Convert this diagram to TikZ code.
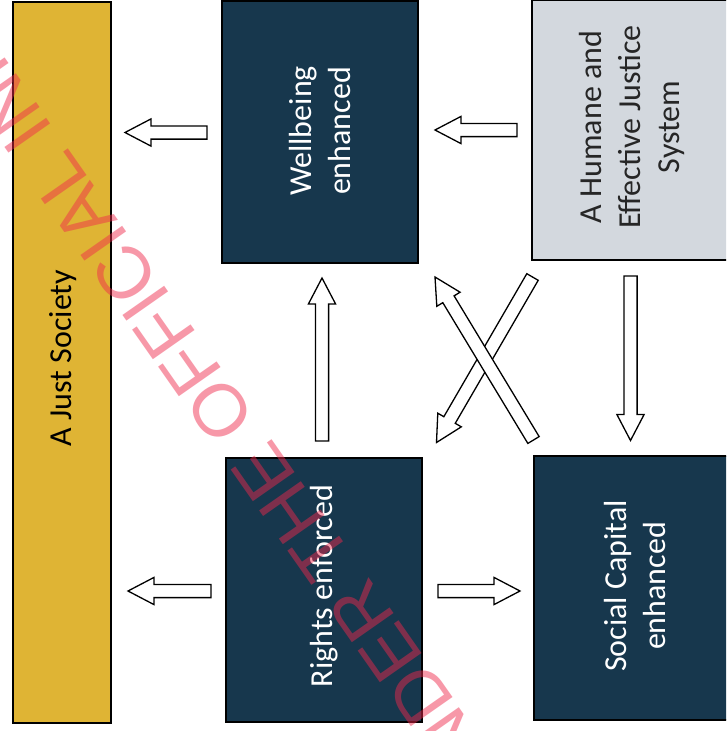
\documentclass[tikz,border=0pt]{standalone}
\usepackage{fontspec}
\setmainfont{Carlito}
\newfontfamily\wmfont{Liberation Sans}
\usetikzlibrary{calc}
\definecolor{navy}{HTML}{17374D}
\definecolor{gold}{HTML}{DFB434}
\definecolor{lgray}{HTML}{D3D8DE}
\definecolor{wmred}{RGB}{240,40,75}
\definecolor{darktext}{HTML}{262626}
\tikzset{
  box/.style={draw=black, line width=1.2pt, rectangle, inner sep=0pt},
  darkbox/.style={box, fill=navy},
  lbl/.style={rotate=90, align=center, font=\fontsize{32}{39}\selectfont, inner sep=0pt},
  barrow/.style={draw=black, fill=white, line width=1.3pt, line join=miter},
  wm/.style={font=\wmfont\fontsize{74}{74}\selectfont, text=wmred, text opacity=0.48, rotate=125, inner sep=0pt}
}
\def\sw{6.6pt}
\def\hw{13.6pt}
\newcommand\blockarrow[3]{%
  \coordinate (#3h) at ($(#2)!26pt!(#1)$);
  \draw[barrow] ($(#1)!\sw!-90:(#2)$) -- ($(#3h)!\sw!-90:(#2)$) -- ($(#3h)!\hw!-90:(#2)$) -- (#2)
    -- ($(#3h)!\hw!90:(#2)$) -- ($(#3h)!\sw!90:(#2)$) -- ($(#1)!\sw!90:(#2)$) -- cycle;
}
\begin{document}
\begin{tikzpicture}[x=1pt,y=-1pt]
\useasboundingbox (0,0) rectangle (726,731);
\clip (0,0) rectangle (726,731);
\fill[white] (0,0) rectangle (726,731);

% boxes
\node[box, fill=gold, minimum width=98pt, minimum height=721pt] (just) at (62,362.5) {};
\node[lbl, text=black] (justt) at (63,358) {A Just Society};

\node[darkbox, minimum width=196pt, minimum height=262pt] (wb) at (320,132) {};
\node[lbl, text=white] (wbt) at (320,131) {Wellbeing\\enhanced};

\node[box, fill=lgray, minimum width=202pt, minimum height=260pt] (hum) at (633,130) {};
\node[lbl, text=darktext] (humt) at (632,127) {A Humane and\\Effective Justice\\System};

\node[darkbox, minimum width=196pt, minimum height=264pt] (rights) at (324,590) {};
\node[lbl, text=white] (rightst) at (324,586) {Rights enforced};

\node[darkbox, minimum width=202pt, minimum height=264pt] (social) at (635,588) {};
\node[lbl, text=white] (socialt) at (635,586) {Social Capital\\enhanced};

% arrow end points
\coordinate (a1s) at (207,132.5);   \coordinate (a1e) at (125,132.5);
\coordinate (a2s) at (517,130);     \coordinate (a2e) at (435,130);
\coordinate (a3s) at (322,441);     \coordinate (a3e) at (322,278);
\coordinate (a4s) at (630.5,276);   \coordinate (a4e) at (630.5,440.5);
\coordinate (a5s) at (211,591);     \coordinate (a5e) at (128,591);
\coordinate (a6s) at (438,591);     \coordinate (a6e) at (520,591);
\coordinate (a7s) at (532.5,277);   \coordinate (a7e) at (436.5,442.5);
\coordinate (a8s) at (533.5,440);   \coordinate (a8e) at (435,277);

\blockarrow{a1s}{a1e}{a1}
\blockarrow{a2s}{a2e}{a2}
\blockarrow{a3s}{a3e}{a3}
\blockarrow{a4s}{a4e}{a4}
\blockarrow{a5s}{a5e}{a5}
\blockarrow{a6s}{a6e}{a6}
\blockarrow{a7s}{a7e}{a7}
\blockarrow{a8s}{a8e}{a8}

% watermark
\node[wm, anchor=west] (wm1) at (237,434) {OFFICIAL INFORMATION ACT};
\node[wm, anchor=east] (wm2) at (248.8,450.9) {RELEASED UNDER THE};
\end{tikzpicture}
\end{document}
